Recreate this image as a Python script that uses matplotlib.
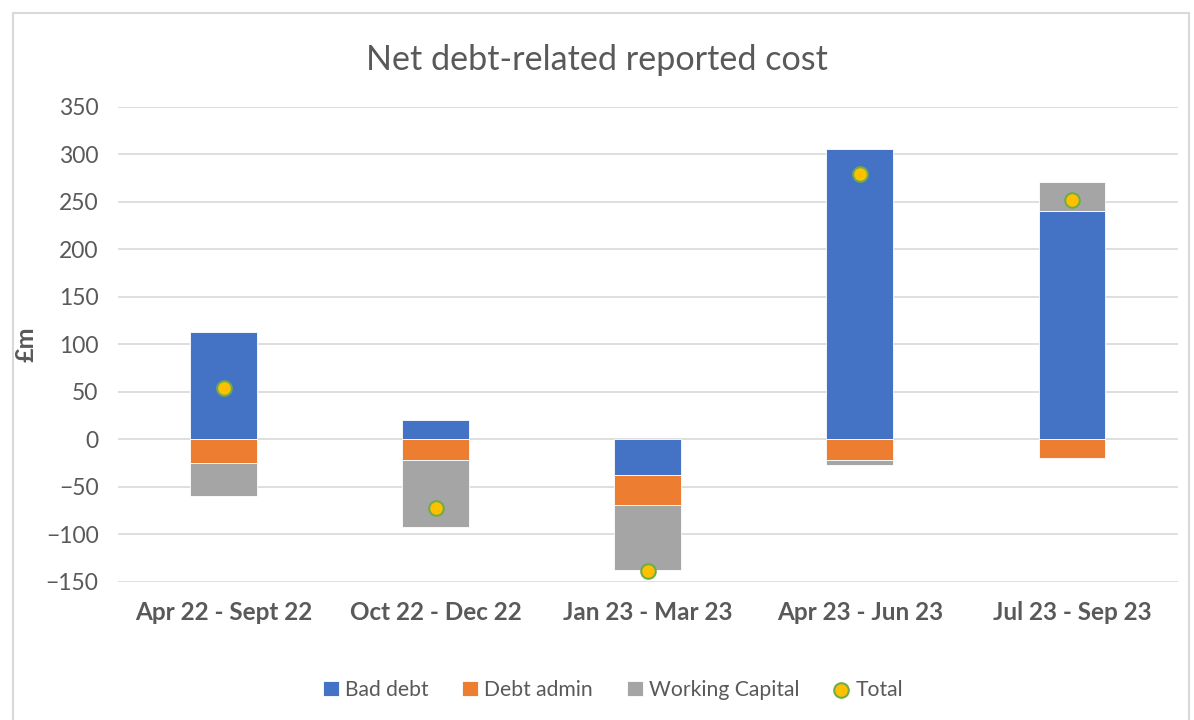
import matplotlib.pyplot as plt
from matplotlib.patches import Rectangle
import numpy as np

# データ
categories = ["Apr 22 - Sept 22", "Oct 22 - Dec 22", "Jan 23 - Mar 23",
              "Apr 23 - Jun 23", "Jul 23 - Sep 23"]
bad_debt = [113, 20, -37, 306, 240]
debt_admin = [-25, -22, -32, -22, -19]
working_capital = [-35, -70, -68, -5, 31]
total = [54, -72, -138, 279, 252]

plt.rcParams["font.family"] = ["Lato", "DejaVu Sans"]
text_color = "#595959"

fig = plt.figure(figsize=(11.94, 7.2), dpi=100)
ax = fig.add_axes([0.0988, 0.1917, 0.8878, 0.6597])

# 外枠
fig.patches.append(Rectangle((13 / 1194, -0.1), 1176 / 1194, 1.1 - 13 / 720,
                             transform=fig.transFigure, fill=False,
                             edgecolor="#d9d9d9", linewidth=1.5))

x = np.arange(len(categories))
width = 0.316
series = [
    ("Bad debt", bad_debt, "#4472c4"),
    ("Debt admin", debt_admin, "#ed7d31"),
    ("Working Capital", working_capital, "#a5a5a5"),
]

# 正負を別々に積み上げる（Excel と同じ）
pos_bottom = np.zeros(len(categories))
neg_bottom = np.zeros(len(categories))
handles = []
for label, vals, color in series:
    vals = np.array(vals, dtype=float)
    bottom = np.where(vals >= 0, pos_bottom, neg_bottom)
    h = ax.bar(x, vals, width, bottom=bottom, color=color, label=label,
               edgecolor="white", linewidth=0.6, zorder=2)
    handles.append(h)
    pos_bottom += np.where(vals >= 0, vals, 0)
    neg_bottom += np.where(vals < 0, vals, 0)

h = ax.scatter(x, total, s=110, color="#ffc000", edgecolors="#70ad47",
               linewidths=1.5, label="Total", zorder=3)
handles.append(h)

ax.set_xlim(-0.5, len(categories) - 0.5)
ax.set_ylim(-150, 350)
ax.set_yticks(np.arange(-150, 351, 50))
ax.yaxis.grid(True, color="#d9d9d9", linewidth=1.2, zorder=0)
ax.set_axisbelow(True)
for s in ax.spines.values():
    s.set_visible(False)
ax.tick_params(axis="both", length=0, colors=text_color)
ax.tick_params(axis="y", labelsize=16.5, pad=14)
ax.set_xticks(x)
ax.set_xticklabels(categories, fontsize=17.5, fontweight="bold", color=text_color)
ax.tick_params(axis="x", pad=14)

ax.set_ylabel("£m", fontsize=18, fontweight="bold", color=text_color, labelpad=6)
fig.text(0.5, 0.917, "Net debt-related reported cost", ha="center", va="center",
         fontsize=24.6, color=text_color)

fig.legend(handles=handles, labels=[h.get_label() for h in handles],
           loc="center", bbox_to_anchor=(613 / 1194, 1 - 690 / 720),
           ncol=4, frameon=False, fontsize=15.2, handlelength=0.75, handleheight=0.75,
           handletextpad=0.3, columnspacing=1.6, labelcolor=text_color)

fig.savefig("out.png", dpi=100)
